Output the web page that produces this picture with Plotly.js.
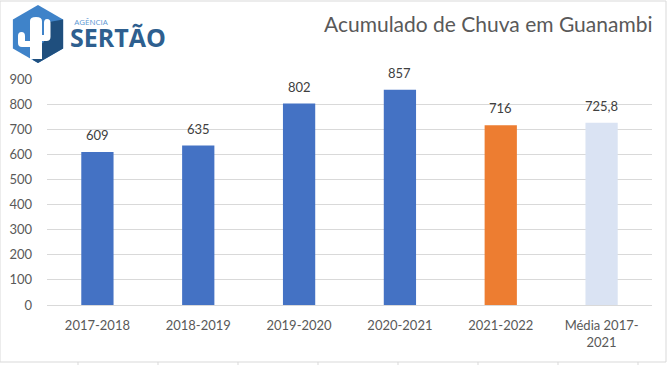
<!DOCTYPE html>
<html>
<head>
<meta charset="utf-8">
<script src="https://cdn.plot.ly/plotly-3.0.1.min.js"></script>
<style>html,body{margin:0;padding:0;background:#fff;}#chart{width:671px;height:365px;}</style>
</head>
<body>
<div id="chart"></div>
<script>
// ---- data ----
const categories = ['2017-2018', '2018-2019', '2019-2020', '2020-2021', '2021-2022', 'Média 2017-<br>2021'];
const rainfall = [609, 635, 802, 857, 716, 725.8];
const barColors = ['#4472C4', '#4472C4', '#4472C4', '#4472C4', '#ED7D31', '#DAE3F3'];
const yTicks = [0, 100, 200, 300, 400, 500, 600, 700, 800, 900];
const chartTitle = 'Acumulado de Chuva em Guanambi';
const logoSmall = 'AGÊNCIA';
const logoBig = 'SERTÃO';

// ---- layout geometry (pixels) ----
const W = 671, H = 365;
const M = {l: 47, r: 19, t: 79, b: 60};
const PW = W - M.l - M.r, PH = H - M.t - M.b;
const px = (x) => (x - M.l) / PW;
const py = (y) => (H - M.b - y) / PH;
function path(cmds) {
  return cmds.map(c => {
    const op = c[0];
    if (op === 'Z') return 'Z';
    const pts = c.slice(1).map(p => px(p[0]).toFixed(5) + ',' + py(p[1]).toFixed(5));
    return op + pts.join(' ');
  }).join(' ');
}

const fmt = v => String(v).replace('.', ',');
const textFont = {family: 'Lato, "Open Sans", sans-serif', size: 13, color: '#404040'};

const trace = {
  type: 'bar',
  x: categories,
  y: rainfall,
  marker: {color: barColors, line: {width: 0}},
  hoverinfo: 'none'
};

const annotations = categories.map((c, i) => ({
  x: c, y: rainfall[i], xref: 'x', yref: 'y',
  text: fmt(rainfall[i]), showarrow: false,
  yanchor: 'middle', xanchor: 'center', yshift: 17,
  font: textFont
}));

annotations.push({
  xref: 'paper', yref: 'paper', x: px(654), y: py(24),
  xanchor: 'right', yanchor: 'middle', showarrow: false,
  text: chartTitle,
  font: {family: 'Lato, "Open Sans", sans-serif', size: 21, color: '#595959'}
});
annotations.push({
  xref: 'paper', yref: 'paper', x: px(68), y: py(35),
  xanchor: 'left', yanchor: 'middle', align: 'left', showarrow: false,
  text: '<span style="font-size:8px;color:#5A96D2">&nbsp;&nbsp;' + logoSmall + '</span><br><span style="font-size:25px"><b>' + logoBig + '</b></span>',
  font: {family: '"Open Sans", sans-serif', size: 17, color: '#2E5F8F'}
});

// logo hexagon
const cx = 38, cy = 34, R = 29;
const hex = [];
for (let k = 0; k < 6; k++) {
  const a = (-90 + 60 * k) * Math.PI / 180;
  hex.push([cx + R * Math.cos(a), cy + R * Math.sin(a)]);
}
const hexPath = path([['M', hex[0]], ['L', hex[1]], ['L', hex[2]], ['L', hex[3]], ['L', hex[4]], ['L', hex[5]], ['Z']]);
const shadowPath = path([['M', [49, 22]], ['L', hex[1]], ['L', hex[2]], ['L', hex[3]], ['L', [33, 60]], ['L', [33, 50]], ['L', [44, 42]], ['L', [44, 30]], ['Z']]);
const cactusPath = path([
  ['M', [30, 59]], ['L', [30, 47]], ['L', [22, 47]],
  ['Q', [18, 47], [18, 43]], ['L', [18, 36]], ['Q', [18, 32], [21.5, 32]],
  ['Q', [25, 32], [25, 36]], ['L', [25, 41]], ['L', [30, 41]],
  ['L', [30, 21]], ['Q', [30, 17], [36, 17]], ['Q', [42, 17], [42, 21]],
  ['L', [42, 35]], ['L', [44, 35]], ['L', [44, 23]], ['Q', [44, 19], [47, 19]],
  ['Q', [50.5, 19], [50.5, 23]], ['L', [50.5, 37]], ['Q', [50.5, 41], [46.5, 41]],
  ['L', [42, 41]], ['L', [42, 59]], ['Z']
]);

const shapes = [
  {type: 'path', xref: 'paper', yref: 'paper', path: hexPath, fillcolor: '#3F83C9', line: {width: 0}, layer: 'above'},
  {type: 'path', xref: 'paper', yref: 'paper', path: shadowPath, fillcolor: '#1F4F7E', line: {width: 0}, layer: 'above'},
  {type: 'path', xref: 'paper', yref: 'paper', path: cactusPath, fillcolor: '#FFFFFF', line: {width: 0}, layer: 'above'},
  // chart border
  {type: 'rect', xref: 'paper', yref: 'paper', x0: px(0), x1: px(666), y0: py(362), y1: py(1), line: {color: '#D9D9D9', width: 1}, fillcolor: 'rgba(0,0,0,0)', layer: 'below'}
];
[78, 158, 238, 318, 398, 478, 558, 638].forEach(x => {
  shapes.push({type: 'line', xref: 'paper', yref: 'paper', x0: px(x), x1: px(x), y0: py(362), y1: py(366), line: {color: '#D9D9D9', width: 1}});
});

const layout = {
  width: W, height: H,
  margin: M,
  paper_bgcolor: '#FFFFFF', plot_bgcolor: '#FFFFFF',
  showlegend: false,
  bargap: 0.68,
  font: {family: 'Lato, "Open Sans", sans-serif', size: 13, color: '#595959'},
  xaxis: {
    type: 'category',
    showgrid: false, zeroline: false,
    showline: true, linecolor: '#D9D9D9', linewidth: 1,
    ticks: '', ticklabelstandoff: 8,
    tickfont: {family: 'Lato, "Open Sans", sans-serif', size: 13, color: '#595959'},
    fixedrange: true
  },
  yaxis: {
    range: [0, 900],
    tickvals: yTicks,
    ticktext: yTicks.map(String),
    showgrid: true, gridcolor: '#D9D9D9', gridwidth: 1,
    zeroline: false, showline: false,
    ticks: '', ticklabelstandoff: 14,
    tickfont: {family: 'Lato, "Open Sans", sans-serif', size: 13, color: '#595959'},
    fixedrange: true
  },
  annotations: annotations,
  shapes: shapes
};

Plotly.newPlot('chart', [trace], layout, {staticPlot: true, displayModeBar: false});
</script>
</body>
</html>
